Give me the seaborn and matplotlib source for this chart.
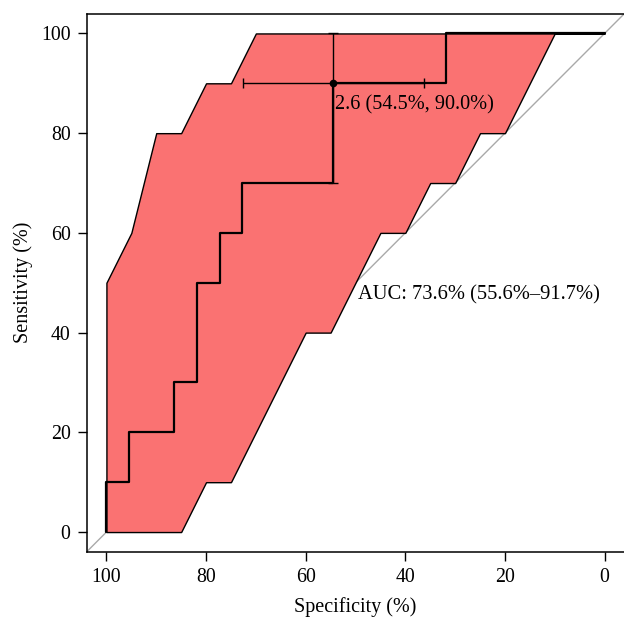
import matplotlib
matplotlib.use("Agg")
import matplotlib.pyplot as plt
import seaborn as sns

# ------------------------------------------------------------
# ROC data (percent scale)
# ------------------------------------------------------------
# ROC curve vertices (specificity, sensitivity), step shape
roc_spec = [100, 100, 95.45, 95.45, 86.36, 86.36, 81.82, 81.82, 77.27,
            77.27, 72.73, 72.73, 54.55, 54.55, 31.82, 31.82, 0]
roc_sens = [0, 10, 10, 20, 20, 30, 30, 50, 50,
            60, 60, 70, 70, 90, 90, 100, 100]

# confidence band of sensitivity at fixed specificities
ci_spec = [100, 95, 90, 85, 80, 75, 70, 65, 60, 55, 50,
           45, 40, 35, 30, 25, 20, 15, 10, 5, 0]
ci_lower = [0, 0, 0, 0, 10, 10, 20, 30, 40, 40, 50,
            60, 60, 70, 70, 80, 80, 90, 100, 100, 100]
ci_upper = [50, 60, 80, 80, 90, 90, 100, 100, 100, 100, 100,
            100, 100, 100, 100, 100, 100, 100, 100, 100, 100]

# best threshold and its CI
thr_value = 2.6
thr_spec = 54.5
thr_sens = 90.0
thr_spec_ci = [36.36, 72.73]
thr_sens_ci = [70, 100]

auc = 73.6
auc_ci = [55.6, 91.7]

x_ticks = [100, 80, 60, 40, 20, 0]
y_ticks = [0, 20, 40, 60, 80, 100]

FILL = "#FA7272"

sns.set_theme(style="ticks")
plt.rcParams["font.family"] = ["Liberation Serif", "DejaVu Serif"]
plt.rcParams.update({
    "axes.edgecolor": "black",
    "axes.linewidth": 1.1,
    "xtick.color": "black",
    "ytick.color": "black",
    "text.color": "black",
    "axes.labelcolor": "black",
})

fig = plt.figure(figsize=(6.24, 6.17), dpi=100)
ax = fig.add_axes([86.5 / 624, 65 / 617, 538 / 624, 538.5 / 617])

# chance line
ax.axline((100, 0), (0, 100), color="darkgrey", lw=1, zorder=1)

# CI band
ax.fill_between(ci_spec, ci_lower, ci_upper, facecolor=FILL,
                edgecolor="black", linewidth=1.0, zorder=2)

# ROC curve
sns.lineplot(x=roc_spec, y=roc_sens, sort=False, estimator=None,
             color="black", linewidth=1.6, ax=ax, zorder=3)

# threshold point with its CI bars
ax.errorbar(thr_spec, thr_sens,
            xerr=[[thr_spec_ci[1] - thr_spec], [thr_spec - thr_spec_ci[0]]],
            yerr=[[thr_sens - thr_sens_ci[0]], [thr_sens_ci[1] - thr_sens]],
            fmt="o", color="black", markersize=4.5, elinewidth=1.0,
            capsize=3.8, capthick=1.0, zorder=4)
ax.annotate(f"{thr_value} ({thr_spec:.1f}%, {thr_sens:.1f}%)",
            xy=(thr_spec, thr_sens), xytext=(1.5, -8.5), textcoords="offset points",
            ha="left", va="top", fontsize=14.6, zorder=5)

ax.text(49.4, 49.5, f"AUC: {auc}% ({auc_ci[0]}%\u2013{auc_ci[1]}%)",
        ha="left", va="top", fontsize=14.8)

ax.set_xlim(104, -4)
ax.set_ylim(-4, 104)
ax.set_xticks(x_ticks)
ax.set_yticks(y_ticks)
ax.tick_params(direction="out", length=6.5, width=1.0, labelsize=14.3, pad=5)
ax.set_xlabel("Specificity (%)", fontsize=14.5, labelpad=7.5)
ax.set_ylabel("Sensitivity (%)", fontsize=14.5, labelpad=6)
ax.spines["right"].set_visible(False)

fig.savefig("out.png", dpi=100)
